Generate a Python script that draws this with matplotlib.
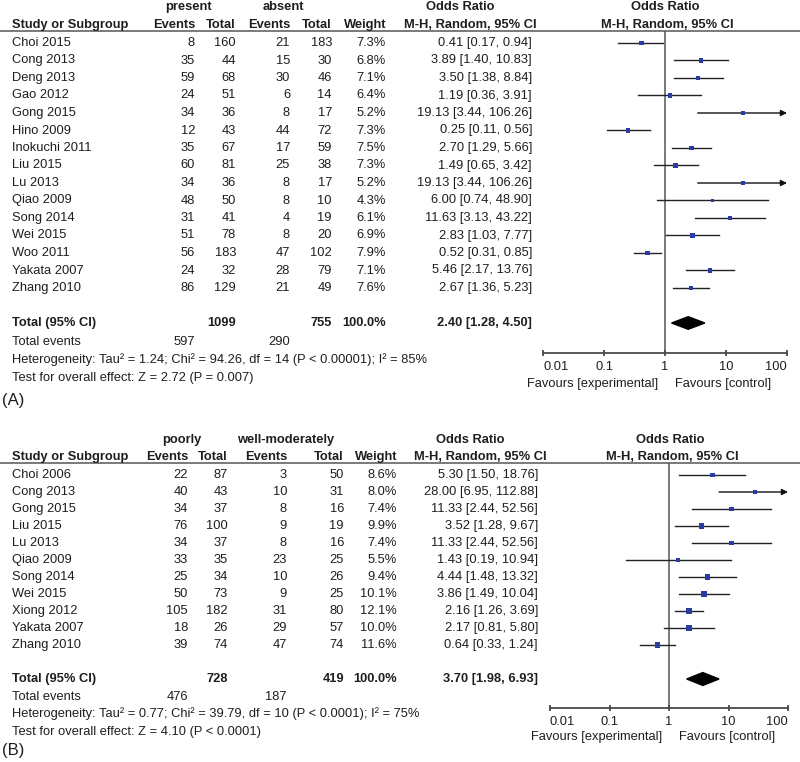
import numpy as np
import matplotlib
matplotlib.use("Agg")
import matplotlib.pyplot as plt

plt.rcParams['font.family'] = ['Liberation Sans', 'DejaVu Sans']

# ---------------- data: panel A ----------------
studies_a = ["Choi 2015", "Cong 2013", "Deng 2013", "Gao 2012", "Gong 2015", "Hino 2009",
             "Inokuchi 2011", "Liu 2015", "Lu 2013", "Qiao 2009", "Song 2014", "Wei 2015",
             "Woo 2011", "Yakata 2007", "Zhang 2010"]
ev1_a = [8, 35, 59, 24, 34, 12, 35, 60, 34, 48, 31, 51, 56, 24, 86]
tot1_a = [160, 44, 68, 51, 36, 43, 67, 81, 36, 50, 41, 78, 183, 32, 129]
ev2_a = [21, 15, 30, 6, 8, 44, 17, 25, 8, 8, 4, 8, 47, 28, 21]
tot2_a = [183, 30, 46, 14, 17, 72, 59, 38, 17, 10, 19, 20, 102, 79, 49]
weight_a = [7.3, 6.8, 7.1, 6.4, 5.2, 7.3, 7.5, 7.3, 5.2, 4.3, 6.1, 6.9, 7.9, 7.1, 7.6]
or_a = [0.41, 3.89, 3.50, 1.19, 19.13, 0.25, 2.70, 1.49, 19.13, 6.00, 11.63, 2.83, 0.52, 5.46, 2.67]
lo_a = [0.17, 1.40, 1.38, 0.36, 3.44, 0.11, 1.29, 0.65, 3.44, 0.74, 3.13, 1.03, 0.31, 2.17, 1.36]
hi_a = [0.94, 10.83, 8.84, 3.91, 106.26, 0.56, 5.66, 3.42, 106.26, 48.90, 43.22, 7.77, 0.85, 13.76, 5.23]
total_a = dict(n1=1099, n2=755, e1=597, e2=290, est=2.40, lo=1.28, hi=4.50,
               het="Heterogeneity: Tau\u00b2 = 1.24; Chi\u00b2 = 94.26, df = 14 (P < 0.00001); I\u00b2 = 85%",
               test="Test for overall effect: Z = 2.72 (P = 0.007)")
groups_a = ["present", "absent"]

# ---------------- data: panel B ----------------
studies_b = ["Choi 2006", "Cong 2013", "Gong 2015", "Liu 2015", "Lu 2013", "Qiao 2009",
             "Song 2014", "Wei 2015", "Xiong 2012", "Yakata 2007", "Zhang 2010"]
ev1_b = [22, 40, 34, 76, 34, 33, 25, 50, 105, 18, 39]
tot1_b = [87, 43, 37, 100, 37, 35, 34, 73, 182, 26, 74]
ev2_b = [3, 10, 8, 9, 8, 23, 10, 9, 31, 29, 47]
tot2_b = [50, 31, 16, 19, 16, 25, 26, 25, 80, 57, 74]
weight_b = [8.6, 8.0, 7.4, 9.9, 7.4, 5.5, 9.4, 10.1, 12.1, 10.0, 11.6]
or_b = [5.30, 28.00, 11.33, 3.52, 11.33, 1.43, 4.44, 3.86, 2.16, 2.17, 0.64]
lo_b = [1.50, 6.95, 2.44, 1.28, 2.44, 0.19, 1.48, 1.49, 1.26, 0.81, 0.33]
hi_b = [18.76, 112.88, 52.56, 9.67, 52.56, 10.94, 13.32, 10.04, 3.69, 5.80, 1.24]
total_b = dict(n1=728, n2=419, e1=476, e2=187, est=3.70, lo=1.98, hi=6.93,
               het="Heterogeneity: Tau\u00b2 = 0.77; Chi\u00b2 = 39.79, df = 10 (P < 0.0001); I\u00b2 = 75%",
               test="Test for overall effect: Z = 4.10 (P < 0.0001)")
groups_b = ["poorly", "well-moderately"]

xticks = [0.01, 0.1, 1, 10, 100]
xticklabels = ["0.01", "0.1", "1", "10", "100"]

# ---------------- figure ----------------
W, H = 800, 762
fig = plt.figure(figsize=(W / 100, H / 100), dpi=100)
ov = fig.add_axes([0, 0, 1, 1])
ov.set_xlim(0, W)
ov.set_ylim(H, 0)
ov.axis('off')

FS = 9.3
TC = '#1e1e1e'
BLUE = '#2b3aa6'
LINE = '#4a4a4a'


def txt(x, y, s, ha='left', bold=False, size=FS):
    ov.text(x, y, s, ha=ha, va='center', fontsize=size, color=TC,
            fontweight='bold' if bold else 'normal')


def panel(label, studies, ev1, tot1, ev2, tot2, weight, ors, los, his, tot, groups, L):
    y0, dy = L['y0'], L['dy']
    c = L['cols']
    # group header
    txt(L['grp_x'][0], L['grp_y'], groups[0], ha='center', bold=True)
    txt(L['grp_x'][1], L['grp_y'], groups[1], ha='center', bold=True)
    txt(L['orh'][0], L['grp_y'], "Odds Ratio", ha='center', bold=True)
    txt(L['forh'][0], L['grp_y'], "Odds Ratio", ha='center', bold=True)
    # column header
    txt(12, L['head_y'], "Study or Subgroup", bold=True)
    txt(c[0], L['head_y'], "Events", ha='right', bold=True)
    txt(c[1], L['head_y'], "Total", ha='right', bold=True)
    txt(c[2], L['head_y'], "Events", ha='right', bold=True)
    txt(c[3], L['head_y'], "Total", ha='right', bold=True)
    txt(c[4], L['head_y'], "Weight", ha='right', bold=True)
    txt(L['orh'][1], L['head_y'], "M-H, Random, 95% CI", ha='center', bold=True)
    txt(L['forh'][1], L['head_y'], "M-H, Random, 95% CI", ha='center', bold=True)
    ov.plot([0, W], [L['line_y'], L['line_y']], color='#707070', lw=1.3)

    n = len(studies)
    for i in range(n):
        y = y0 + dy * i
        txt(12, y, studies[i])
        txt(c[0], y, str(ev1[i]), ha='right')
        txt(c[1], y, str(tot1[i]), ha='right')
        txt(c[2], y, str(ev2[i]), ha='right')
        txt(c[3], y, str(tot2[i]), ha='right')
        txt(c[4], y, f"{weight[i]:.1f}%", ha='right')
        txt(L['or_r'], y, f"{ors[i]:.2f} [{los[i]:.2f}, {his[i]:.2f}]", ha='right')

    ti = L['total_idx']
    yt = y0 + dy * ti
    txt(12, yt, "Total (95% CI)", bold=True)
    txt(c[1], yt, str(tot['n1']), ha='right', bold=True)
    txt(c[3], yt, str(tot['n2']), ha='right', bold=True)
    txt(c[4], yt, "100.0%", ha='right', bold=True)
    txt(L['or_r'], yt, f"{tot['est']:.2f} [{tot['lo']:.2f}, {tot['hi']:.2f}]", ha='right', bold=True)
    txt(12, yt + L['foot'][0], "Total events")
    txt(c[0], yt + L['foot'][0], str(tot['e1']), ha='right')
    txt(c[2], yt + L['foot'][0], str(tot['e2']), ha='right')
    txt(12, yt + L['foot'][1], tot['het'])
    txt(12, yt + L['foot'][2], tot['test'])
    txt(2, L['label_y'], label, size=12)

    # forest axes
    xl, xr = L['fx']
    ax = fig.add_axes([xl / W, 1 - L['axis_y'] / H, (xr - xl) / W, (L['axis_y'] - L['line_y']) / H])
    ax.patch.set_alpha(0)
    ax.set_xscale('log')
    ax.set_xlim(0.01, 100)
    ax.set_ylim((L['axis_y'] - y0) / dy, (L['line_y'] - y0) / dy)
    for s in ['top', 'left', 'right']:
        ax.spines[s].set_visible(False)
    ax.spines['bottom'].set_color(LINE)
    ax.spines['bottom'].set_linewidth(1.3)
    ax.set_yticks([])
    ax.set_xticks(xticks)
    ax.set_xticklabels(xticklabels)
    ax.minorticks_off()
    ax.tick_params(axis='x', direction='inout', length=5, width=1.3, color=LINE,
                   labelsize=FS, labelcolor=TC, pad=3)
    labs = ax.get_xticklabels()
    labs[0].set_ha('left')
    labs[-1].set_ha('right')
    ax.axvline(1, color='#555555', lw=1.1, zorder=1)

    idx = np.arange(n)
    for i in range(n):
        if his[i] > 100:
            ax.annotate('', xy=(100, idx[i]), xytext=(los[i], idx[i]),
                        arrowprops=dict(arrowstyle='-|>', color='#111111', lw=1.0,
                                        mutation_scale=9, shrinkA=0, shrinkB=0),
                        annotation_clip=False)
        else:
            ax.plot([los[i], his[i]], [idx[i], idx[i]], color='#222222', lw=1.0, zorder=2)
    ax.scatter(ors, idx, s=1.4 * np.array(weight), marker='s', color=BLUE, zorder=3, linewidths=0)
    h = L['dh']
    ax.fill([tot['lo'], tot['est'], tot['hi'], tot['est']],
            [ti, ti - h, ti, ti + h], color='black', zorder=3)
    ax.annotate("Favours [experimental]", xy=(1, 0), xycoords=('data', 'axes fraction'),
                xytext=(-5, -L['fav_off'] * 0.72), textcoords='offset points',
                ha='right', va='center', fontsize=FS, color=TC)
    ax.annotate("Favours [control]", xy=(1, 0), xycoords=('data', 'axes fraction'),
                xytext=(7, -L['fav_off'] * 0.72), textcoords='offset points',
                ha='left', va='center', fontsize=FS, color=TC)


LA = dict(y0=43, dy=17.5, grp_y=7, head_y=25, line_y=31, cols=[195, 236, 290, 332, 386],
          or_r=532, grp_x=[188, 283], orh=[460, 470], forh=[665, 667], fx=(543, 787),
          axis_y=353, total_idx=16, foot=[19, 37, 55], label_y=400, dh=0.36, fav_off=31)
LB = dict(y0=475, dy=17, grp_y=440, head_y=457, line_y=463, cols=[188, 228, 287, 344, 397],
          or_r=538, grp_x=[182, 286], orh=[470, 480], forh=[670, 672], fx=(550, 788),
          axis_y=708, total_idx=12, foot=[18, 35, 53], label_y=751, dh=0.38, fav_off=29)

panel("(A)", studies_a, ev1_a, tot1_a, ev2_a, tot2_a, weight_a, or_a, lo_a, hi_a, total_a, groups_a, LA)
panel("(B)", studies_b, ev1_b, tot1_b, ev2_b, tot2_b, weight_b, or_b, lo_b, hi_b, total_b, groups_b, LB)

fig.savefig("out.png", dpi=100)
